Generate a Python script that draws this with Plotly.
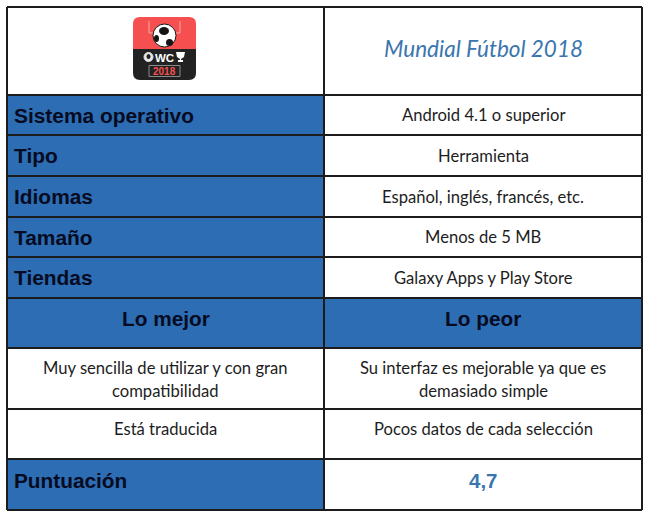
import plotly.graph_objects as go

# contenido de la tabla
app_name = "Mundial Fútbol 2018"
spec_labels = ["Sistema operativo", "Tipo", "Idiomas", "Tamaño", "Tiendas"]
spec_values = ["Android 4.1 o superior", "Herramienta", "Español, inglés, francés, etc.",
               "Menos de 5 MB", "Galaxy Apps y Play Store"]
best_title = "Lo mejor"
worst_title = "Lo peor"
best_items = [["Muy sencilla de utilizar y con gran", "compatibilidad"], ["Está traducida"]]
worst_items = [["Su interfaz es mejorable ya que es", "demasiado simple"], ["Pocos datos de cada selección"]]
score_label = "Puntuación"
score_value = "4,7"
logo_main = "WC"
logo_year = "2018"

# geometria
x_edges = [7, 324, 642]
y_edges = [7, 95, 135, 176, 217, 257, 298, 348, 409, 459, 510]
BLUE = "#2d6db3"
LINE = "#1c1c1c"
INK = "#060b22"
BODY = "#1d1d1d"
ACCENT = "#3a76ae"
LABEL_FONT = "Liberation Sans"
BODY_FONT = "Lato"

fig = go.Figure()
shapes = []
notes = []


def rect(x0, y0, x1, y1, fill, line=None, width=0):
    shapes.append(dict(type="rect", x0=x0, y0=y0, x1=x1, y1=y1, fillcolor=fill,
                       line=dict(color=line, width=width) if line else dict(width=0)))


def text(x, y, s, size, color, family=BODY_FONT, bold=False, italic=False, anchor="center"):
    notes.append(dict(x=x, y=y, text=s, showarrow=False, xanchor=anchor, yanchor="middle",
                      font=dict(size=size, color=color, family=family,
                                weight="bold" if bold else "normal",
                                style="italic" if italic else "normal")))


left_mid = (x_edges[0] + x_edges[1]) / 2
right_mid = (x_edges[1] + x_edges[2]) / 2

# fondos azules
rect(x_edges[0], y_edges[1], x_edges[1], y_edges[6], BLUE)
rect(x_edges[0], y_edges[6], x_edges[2], y_edges[7], BLUE)
rect(x_edges[0], y_edges[9], x_edges[1], y_edges[10], BLUE)

# lineas de la tabla
for y in y_edges:
    shapes.append(dict(type="line", x0=x_edges[0], x1=x_edges[2], y0=y, y1=y,
                       line=dict(color=LINE, width=2)))
for x in x_edges:
    shapes.append(dict(type="line", x0=x, x1=x, y0=y_edges[0], y1=y_edges[-1],
                       line=dict(color=LINE, width=2)))

# logo
shapes.append(dict(type="path", fillcolor="#f5504f", line=dict(width=0),
                   path="M133,49 L133,24 Q133,17 140,17 L189,17 Q196,17 196,24 L196,49 Z"))
shapes.append(dict(type="path", fillcolor="#222222", line=dict(width=0),
                   path="M133,49 L133,73 Q133,80 140,80 L189,80 Q196,80 196,73 L196,49 Z"))
shapes.append(dict(type="path", line=dict(color="#f9a9a6", width=1),
                   path="M149,21 L149,33 L180,33 L180,21"))
shapes.append(dict(type="circle", x0=153, x1=176, y0=24, y1=47, fillcolor="white",
                   line=dict(color="#151515", width=1)))
for bx0, by0, bx1, by1 in [(159, 27, 169, 35), (154, 35, 159, 42), (166, 39, 173, 46)]:
    shapes.append(dict(type="circle", x0=bx0, x1=bx1, y0=by0, y1=by1, fillcolor="#151515",
                       line=dict(width=0)))
shapes.append(dict(type="circle", x0=144, x1=153, y0=52.5, y1=61.5, fillcolor="#e6e6e6",
                   line=dict(color="#e6e6e6", width=1)))
shapes.append(dict(type="circle", x0=146.5, x1=150.5, y0=54, y1=59, fillcolor="#222222",
                   line=dict(width=0)))
shapes.append(dict(type="path", fillcolor="white", line=dict(width=0),
                   path="M176,52 L185,52 L184,57 L181,59 L181,60 L183,60 L183,62 L178,62 L178,60 L180,60 L180,59 L177,57 Z"))
shapes.append(dict(type="rect", x0=149, x1=180, y0=65.5, y1=76.5, line=dict(color="#8a8a8a", width=1)))
text(164.5, 57.5, logo_main, 11.5, "white", LABEL_FONT, bold=True)
text(164.5, 71.5, logo_year, 10, "#f5504f", LABEL_FONT, bold=True)

# cabecera
text(right_mid + 0.5, 48, app_name, 22.5, ACCENT, BODY_FONT, italic=True)

# filas de especificaciones
for i, (label, value) in enumerate(zip(spec_labels, spec_values)):
    mid = (y_edges[i + 1] + y_edges[i + 2]) / 2
    text(12, mid, label, 20.9, INK, LABEL_FONT, bold=True, anchor="left")
    text(right_mid, mid, value, 16.6, BODY)

# lo mejor / lo peor
text(left_mid + 0.5, 318, best_title, 20.8, INK, LABEL_FONT, bold=True)
text(right_mid, 318, worst_title, 20.8, INK, LABEL_FONT, bold=True)
for row, top in enumerate([368, 429]):
    for col, items in [(left_mid - 0.5, best_items), (right_mid, worst_items)]:
        for j, line in enumerate(items[row]):
            text(col, top + j * 23, line, 16.6, BODY)

# puntuacion
text(12, 480, score_label, 20.8, INK, LABEL_FONT, bold=True, anchor="left")
text(right_mid, 480, score_value, 20.5, ACCENT, LABEL_FONT, bold=True)

fig.update_layout(
    width=650, height=519, autosize=False,
    margin=dict(l=0, r=0, t=0, b=0),
    paper_bgcolor="white", plot_bgcolor="white",
    showlegend=False,
    xaxis=dict(range=[0, 650], visible=False, fixedrange=True),
    yaxis=dict(range=[519, 0], visible=False, fixedrange=True),
    shapes=shapes, annotations=notes,
)
# el body trae 8px de margen por defecto
fig.write_html("out.html", config={"displayModeBar": False},
               post_script="document.body.style.margin='0';")
